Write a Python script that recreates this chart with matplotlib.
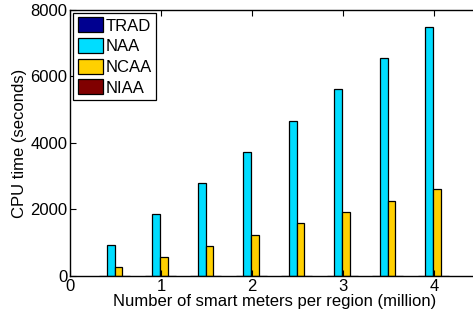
import matplotlib
matplotlib.use("Agg")
import matplotlib.pyplot as plt
import numpy as np

plt.rcParams['font.family'] = ['Liberation Sans', 'DejaVu Sans']

meters = [0.5, 1.0, 1.5, 2.0, 2.5, 3.0, 3.5, 4.0]
series_names = ["TRAD", "NAA", "NCAA", "NIAA"]
trad = [0, 0, 0, 0, 0, 0, 0, 0]
naa = [923, 1865, 2797, 3739, 4671, 5615, 6547, 7480]
ncaa = [271, 581, 912, 1233, 1585, 1916, 2256, 2607]
niaa = [0, 0, 0, 0, 0, 0, 0, 0]
colors = ["#000090", "#00DDFF", "#FFD000", "#800000"]

fig = plt.figure(figsize=(4.73, 3.2), dpi=100)
ax = fig.add_axes([0.148, 0.1375, 0.866, 0.8315])

w = 0.085
x = np.array(meters)
for i, (vals, name, c) in enumerate(zip([trad, naa, ncaa, niaa], series_names, colors)):
    ax.bar(x + (i - 1.5) * w - 0.01, vals, width=w, color=c, edgecolor='black',
           linewidth=0.9, label=name)

fs = 12
ax.set_xlim(0, 4.5)
ax.set_ylim(0, 8000)
ax.set_xticks([0, 1, 2, 3, 4])
ax.set_yticks([0, 2000, 4000, 6000, 8000])
ax.tick_params(direction='in', top=True, right=True, labelsize=fs, length=4, width=0.8, pad=2)
ax.set_xlabel("Number of smart meters per region (million)", fontsize=fs, labelpad=0)
ax.set_ylabel("CPU time (seconds)", fontsize=fs, labelpad=2)
for s in ax.spines.values():
    s.set_linewidth(1.0)

leg = ax.legend(loc='upper left', fontsize=fs, frameon=True, fancybox=False,
                edgecolor='black', framealpha=1, borderaxespad=0.2,
                handlelength=1.5, handleheight=1.0, handletextpad=0.2,
                labelspacing=0.27, borderpad=0.25)
leg.get_frame().set_linewidth(0.9)

fig.savefig("out.png", dpi=100)
